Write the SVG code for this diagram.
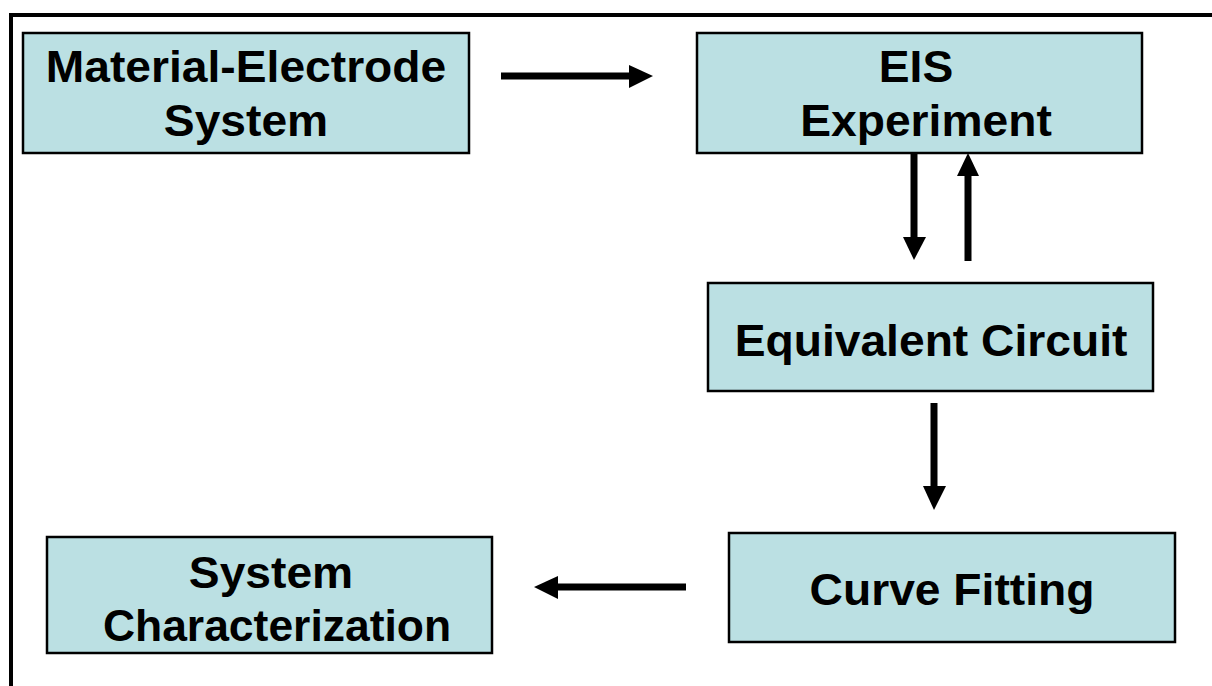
<svg xmlns="http://www.w3.org/2000/svg" width="1212" height="686" viewBox="0 0 1212 686">
<style>
.box{fill:#BBE0E3;stroke:#000;stroke-width:2.5}
.t{font-family:"Liberation Sans",Arial,sans-serif;font-weight:bold;font-size:44px;fill:#000;text-anchor:middle}
.ln{stroke:#000;stroke-width:7;fill:none}
.hd{fill:#000}
</style>
<rect x="0" y="0" width="1212" height="686" fill="#fff"/>
<rect x="11" y="15" width="1230" height="700" fill="none" stroke="#000" stroke-width="4"/>
<g id="n1">
<rect class="box" x="23" y="33" width="446" height="120"/>
<text class="t" transform="translate(246,82) scale(1.05,1)">Material-Electrode</text>
<text class="t" transform="translate(246,136) scale(1.05,1)">System</text>
</g>
<g id="n2">
<rect class="box" x="697" y="33" width="445" height="120"/>
<text class="t" transform="translate(916,82) scale(1.05,1)">EIS</text>
<text class="t" transform="translate(926,136) scale(1.05,1)">Experiment</text>
</g>
<g id="n3">
<rect class="box" x="708" y="283" width="445" height="108"/>
<text class="t" transform="translate(931,356) scale(1.05,1)">Equivalent Circuit</text>
</g>
<g id="n4">
<rect class="box" x="729" y="533" width="446" height="109"/>
<text class="t" transform="translate(952,605) scale(1.05,1)">Curve Fitting</text>
</g>
<g id="n5">
<rect class="box" x="47" y="537" width="445" height="116"/>
<text class="t" transform="translate(271,588) scale(1.05,1)">System</text>
<text class="t" transform="translate(277,641) scale(1.01,1)">Characterization</text>
</g>
<g id="connectors">
<line class="ln" x1="501" y1="76" x2="631" y2="76"/>
<polygon class="hd" points="629,65 653,76 629,88"/>
<line class="ln" x1="914" y1="153" x2="914" y2="239"/>
<polygon class="hd" points="903,237 926,237 914,260"/>
<line class="ln" x1="968" y1="261" x2="968" y2="174"/>
<polygon class="hd" points="957,176 979,176 968,153"/>
<line class="ln" x1="934" y1="403" x2="934" y2="488"/>
<polygon class="hd" points="923,486 946,486 934,510"/>
<line class="ln" x1="686" y1="587" x2="556" y2="587"/>
<polygon class="hd" points="558,576 534,587 558,599"/>
</g>
</svg>
